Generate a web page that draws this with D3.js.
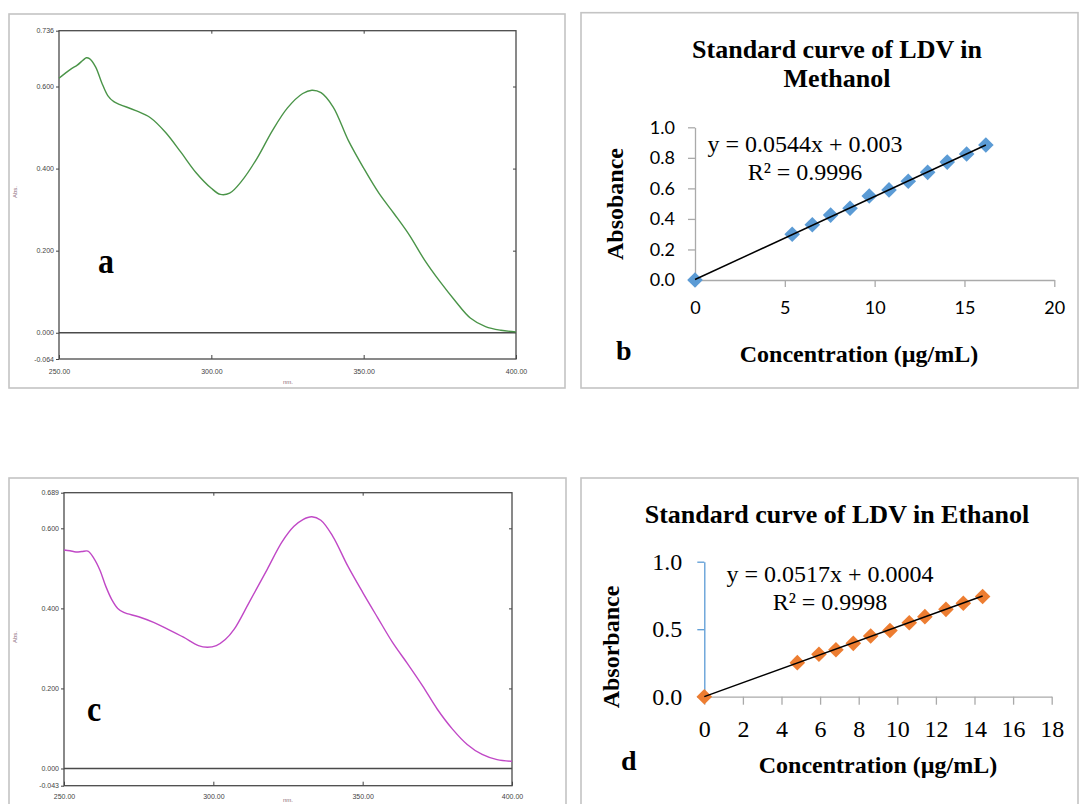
<!DOCTYPE html>
<html>
<head>
<meta charset="utf-8">
<script src="https://cdn.jsdelivr.net/npm/d3@7"></script>
<style>
  body { margin: 0; background: #fff; }
  svg { display: block; }
  .spec text { font-family: Arial, "Liberation Sans", sans-serif; font-size: 7px; fill: #444; }
  .spec .tick line { stroke: #404040; }
  .serif { font-family: "Times New Roman", "Liberation Serif", serif; }
  .calib { font-family: Lato, "Open Sans", sans-serif; }
</style>
</head>
<body>
<svg width="1081" height="804"></svg>
<script>
// UV spectrum of LDV in methanol (panel a)
var wlMethanol = [250,252,254,256,258,259,260,262,264,266,268,270,275,280,285,290,295,300,303,306,310,315,320,325,330,333,336,340,345,350,355,360,365,370,375,380,385,390,395,400];
var absMethanol = [0.620,0.632,0.643,0.652,0.665,0.670,0.668,0.648,0.610,0.578,0.563,0.556,0.542,0.524,0.488,0.440,0.390,0.352,0.337,0.340,0.370,0.425,0.492,0.548,0.583,0.591,0.585,0.550,0.468,0.401,0.340,0.290,0.238,0.177,0.125,0.078,0.036,0.015,0.006,0.002];

// UV spectrum of LDV in ethanol (panel c)
var wlEthanol = [250,252,254,256,258,260,262,264,266,268,270,275,280,285,290,295,298,301,304,307,312,318,323,327,330,333,336,340,345,350,355,360,365,370,375,380,385,390,395,400];
var absEthanol = [0.546,0.544,0.541,0.542,0.543,0.525,0.496,0.455,0.422,0.400,0.390,0.379,0.365,0.347,0.328,0.307,0.303,0.307,0.322,0.348,0.415,0.497,0.566,0.605,0.622,0.629,0.620,0.580,0.506,0.440,0.377,0.315,0.262,0.207,0.148,0.099,0.060,0.035,0.022,0.018];

// spectrum axes
var wlTicks = [250, 300, 350, 400];
var wlTickLabels = ["250.00", "300.00", "350.00", "400.00"];
var absTicksA = [-0.064, 0, 0.2, 0.4, 0.6, 0.736];
var absTickLabelsA = ["-0.064", "0.000", "0.200", "0.400", "0.600", "0.736"];
var absTicksC = [-0.043, 0, 0.2, 0.4, 0.6, 0.689];
var absTickLabelsC = ["-0.043", "0.000", "0.200", "0.400", "0.600", "0.689"];

// standard curves (panels b, d)
var concMethanol = [0, 5.41, 6.53, 7.55, 8.63, 9.70, 10.80, 11.87, 12.95, 14.04, 15.12, 16.19];
var absStdMethanol = [0.000, 0.300, 0.362, 0.425, 0.470, 0.550, 0.590, 0.647, 0.705, 0.772, 0.825, 0.884];
var fitMethanol = [0.0544, 0.003];   // slope, intercept
var concEthanol = [0, 4.82, 5.94, 6.82, 7.72, 8.62, 9.62, 10.62, 11.43, 12.52, 13.42, 14.42];
var absStdEthanol = [0.000, 0.252, 0.314, 0.348, 0.395, 0.450, 0.490, 0.548, 0.593, 0.647, 0.692, 0.742];
var fitEthanol = [0.0517, 0.0004];

var xTicksB = [0, 5, 10, 15, 20];
var yTicksB = [0, 0.2, 0.4, 0.6, 0.8, 1.0];
var xTicksD = [0, 2, 4, 6, 8, 10, 12, 14, 16, 18];
var yTicksD = [0, 0.5, 1.0];

var svg = d3.select("svg");

// ---------- spectra ----------
function drawSpectrum(o) {
  var g = svg.append("g").attr("class", "spec");

  // outer frame
  g.append("rect")
    .attr("x", o.frame[0]).attr("y", o.frame[1])
    .attr("width", o.frame[2] - o.frame[0]).attr("height", o.frame[3] - o.frame[1])
    .attr("fill", "none").attr("stroke", "#c4c4c4").attr("stroke-width", 1.6);

  var x = d3.scaleLinear().domain([250, 400]).range([o.plot[0], o.plot[2]]);
  var y = d3.scaleLinear().domain(o.yDomain).range([o.plot[3], o.plot[1]]);

  g.append("g")
    .attr("transform", "translate(" + o.plot[0] + ",0)")
    .call(d3.axisLeft(y).tickValues(o.yTicks).tickSize(3).tickPadding(2)
      .tickFormat(function (d, i) { return o.yLabels[i]; }));

  g.append("g")
    .attr("transform", "translate(0," + o.plot[3] + ")")
    .call(d3.axisBottom(x).tickValues(wlTicks).tickSize(-4).tickPadding(o.xPad)
      .tickFormat(function (d, i) { return wlTickLabels[i]; }));

  g.append("g")
    .attr("transform", "translate(0," + o.plot[1] + ")")
    .call(d3.axisTop(x).tickValues([300, 350]).tickSize(-3).tickFormat(""));

  g.append("g")
    .attr("transform", "translate(" + o.plot[2] + ",0)")
    .call(d3.axisRight(y).tickValues([0.2, 0.4, 0.6]).tickSize(-3).tickFormat(""));

  g.selectAll(".domain").remove();
  g.selectAll(".tick text").attr("fill", "#444");

  // plot box and zero line
  g.append("rect")
    .attr("x", o.plot[0]).attr("y", o.plot[1])
    .attr("width", o.plot[2] - o.plot[0]).attr("height", o.plot[3] - o.plot[1])
    .attr("fill", "none").attr("stroke", "#4a4a4a").attr("stroke-width", 1.3);

  g.append("line")
    .attr("x1", o.plot[0]).attr("x2", o.plot[2])
    .attr("y1", y(0)).attr("y2", y(0))
    .attr("stroke", "#4a4a4a").attr("stroke-width", 1.3);

  var line = d3.line()
    .x(function (d, i) { return x(o.wl[i]); })
    .y(function (d) { return y(d); })
    .curve(d3.curveCatmullRom.alpha(0.5));

  g.append("path")
    .datum(o.abs)
    .attr("d", line)
    .attr("fill", "none")
    .attr("stroke", o.color)
    .attr("stroke-width", 1.4);

  g.append("text")
    .attr("transform", "translate(" + o.absPos[0] + "," + o.absPos[1] + ") rotate(-90)")
    .attr("text-anchor", "middle")
    .style("font-size", "6px").style("fill", "#8a6878")
    .text("Abs.");

  g.append("text")
    .attr("x", o.nmPos[0]).attr("y", o.nmPos[1])
    .style("font-size", "6px").style("fill", "#8a6878")
    .text("nm.");

  svg.append("text")
    .attr("class", "serif")
    .attr("transform", "translate(" + o.letterPos[0] + "," + o.letterPos[1] + ") scale(1,1.15)")
    .style("font-size", "32px").style("font-weight", "bold")
    .text(o.letter);
}

drawSpectrum({
  frame: [9, 14, 565, 388],
  plot: [59, 30.7, 516, 359],
  yDomain: [-0.064, 0.736],
  yTicks: absTicksA, yLabels: absTickLabelsA,
  wl: wlMethanol, abs: absMethanol,
  color: "#4a9448",
  xPad: 10,
  absPos: [17, 192], nmPos: [283, 384],
  letter: "a", letterPos: [98, 273]
});

drawSpectrum({
  frame: [9, 478, 566, 830],
  plot: [64, 492.7, 512, 785.7],
  yDomain: [-0.043, 0.689],
  yTicks: absTicksC, yLabels: absTickLabelsC,
  wl: wlEthanol, abs: absEthanol,
  color: "#c048c6",
  xPad: 8,
  absPos: [17, 637], nmPos: [283, 802],
  letter: "c", letterPos: [87, 721]
});

// ---------- standard curves ----------
function drawStandard(o) {
  var g = svg.append("g");

  g.append("rect")
    .attr("x", o.frame[0]).attr("y", o.frame[1])
    .attr("width", o.frame[2] - o.frame[0]).attr("height", o.frame[3] - o.frame[1])
    .attr("fill", "none").attr("stroke", "#c4c4c4").attr("stroke-width", 1.6);

  var x = d3.scaleLinear().domain(o.xDomain).range([o.plot[0], o.plot[2]]);
  var y = d3.scaleLinear().domain([0, 1]).range([o.plot[3], o.plot[1]]);

  var xa = g.append("g")
    .attr("transform", "translate(0," + o.plot[3] + ")")
    .call(d3.axisBottom(x).tickValues(o.xTicks).tickSize(o.tick).tickSizeOuter(0).tickPadding(o.xPad)
      .tickFormat(d3.format("d")));
  var ya = g.append("g")
    .attr("transform", "translate(" + o.plot[0] + ",0)")
    .call(d3.axisLeft(y).tickValues(o.yTicks).tickSize(7).tickSizeOuter(0).tickPadding(o.yPad)
      .tickFormat(d3.format(".1f")));

  xa.selectAll("line, path").attr("stroke", "#aaaaaa").attr("stroke-width", 1.3);
  ya.selectAll("line, path").attr("stroke", o.yAxisColor).attr("stroke-width", 1.3);
  g.selectAll(".tick text")
    .attr("class", o.tickFont)
    .style("font-size", o.tickSize + "px")
    .attr("fill", "#000");

  // markers
  g.selectAll(".pt")
    .data(o.conc)
    .enter().append("path")
    .attr("class", "pt")
    .attr("d", d3.symbol().type(d3.symbolSquare).size(122))
    .attr("transform", function (d, i) {
      return "translate(" + x(d) + "," + y(o.abs[i]) + ") rotate(45)";
    })
    .attr("fill", o.color);

  // linear trendline
  var xMax = d3.max(o.conc);
  g.append("line")
    .attr("x1", x(0)).attr("y1", y(o.fit[1]))
    .attr("x2", x(xMax)).attr("y2", y(o.fit[0] * xMax + o.fit[1]))
    .attr("stroke", "#000").attr("stroke-width", 1.5);

  // texts
  o.title.forEach(function (t, i) {
    g.append("text")
      .attr("class", "serif")
      .attr("x", o.titlePos[0]).attr("y", o.titlePos[1] + i * 29)
      .attr("text-anchor", "middle")
      .style("font-size", "26px").style("font-weight", "bold")
      .text(t);
  });

  g.append("text")
    .attr("class", "serif")
    .attr("transform", "translate(" + o.yTitlePos[0] + "," + o.yTitlePos[1] + ") rotate(-90)")
    .attr("text-anchor", "middle")
    .style("font-size", "24px").style("font-weight", "bold")
    .text(o.yTitle);

  g.append("text")
    .attr("class", "serif")
    .attr("x", o.xTitlePos[0]).attr("y", o.xTitlePos[1])
    .attr("text-anchor", "middle")
    .style("font-size", "24px").style("font-weight", "bold")
    .text("Concentration (µg/mL)");

  g.append("text")
    .attr("class", "serif")
    .attr("x", o.eqPos[0]).attr("y", o.eqPos[1])
    .attr("text-anchor", "middle")
    .style("font-size", "24px")
    .text("y = " + o.fit[0] + "x + " + o.fit[1]);

  g.append("text")
    .attr("class", "serif")
    .attr("x", o.eqPos[0]).attr("y", o.eqPos[1] + o.r2Gap)
    .attr("text-anchor", "middle")
    .style("font-size", "24px")
    .text("R² = " + o.r2);

  g.append("text")
    .attr("class", "serif")
    .attr("x", o.letterPos[0]).attr("y", o.letterPos[1])
    .style("font-size", "28px").style("font-weight", "bold")
    .text(o.letter);
}

drawStandard({
  frame: [581, 12.7, 1078, 388],
  plot: [695, 127.3, 1054.3, 280],
  xDomain: [0, 20], xTicks: xTicksB, yTicks: yTicksB,
  tick: 7, xPad: 14, yPad: 13,
  yAxisColor: "#aaaaaa",
  tickFont: "calib", tickSize: 18,
  conc: concMethanol, abs: absStdMethanol, fit: fitMethanol, r2: "0.9996",
  color: "#5b9bd5",
  title: ["Standard curve of LDV in", "Methanol"], titlePos: [837, 58],
  yTitle: "Absobance", yTitlePos: [623, 204],
  xTitlePos: [859, 362],
  eqPos: [805, 151.5], r2Gap: 28.5,
  letter: "b", letterPos: [616, 360]
});

drawStandard({
  frame: [581, 478, 1078, 830],
  plot: [704.3, 561.7, 1051.7, 696.7],
  xDomain: [0, 18], xTicks: xTicksD, yTicks: yTicksD,
  tick: 8, xPad: 15, yPad: 15,
  yAxisColor: "#5b9bd5",
  tickFont: "serif", tickSize: 24,
  conc: concEthanol, abs: absStdEthanol, fit: fitEthanol, r2: "0.9998",
  color: "#ed7d31",
  title: ["Standard curve of LDV in Ethanol"], titlePos: [837, 523],
  yTitle: "Absorbance", yTitlePos: [619, 647],
  xTitlePos: [878, 773],
  eqPos: [830, 581.5], r2Gap: 28,
  letter: "d", letterPos: [621, 770]
});
</script>
</body>
</html>
